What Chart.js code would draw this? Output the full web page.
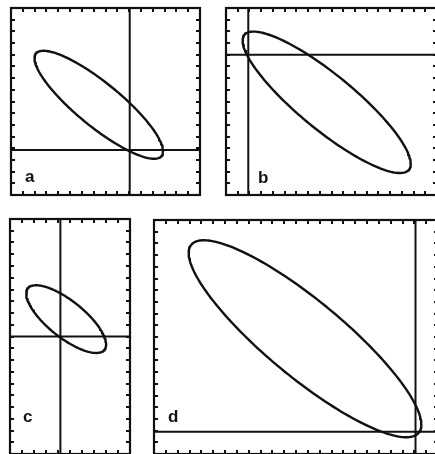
<!DOCTYPE html>
<html>
<head>
<meta charset="utf-8">
<script src="https://cdn.jsdelivr.net/npm/chart.js@4/dist/chart.umd.min.js"></script>
<style>
  html, body { margin: 0; padding: 0; background: #fff; overflow: hidden; }
  body { width: 435px; height: 454px; position: relative; }
  .panel { position: absolute; }
</style>
</head>
<body>
<script>
// panel letters
const panels = ["a", "b", "c", "d"];

// axis extent of each panel, in tick units
const xMax = [16, 18, 10, 24];
const yMax = [16, 16, 20, 20];

// position of the crossing lines
const lineX = [10.05, 1.9, 4.2, 22.1];
const lineY = [3.85, 12, 10, 1.9];

// ellipse: centre, half widths and correlation
const centreX = [7.43, 8.59, 4.68, 12.76];
const centreY = [7.72, 7.93, 11.48, 9.85];
const halfX = [5.44, 7.17, 3.33, 9.83];
const halfY = [4.62, 6.05, 2.88, 8.42];
const rho = [-0.86, -0.87, -0.75, -0.87];

// frame boxes on the page (left, top, right, bottom) and letter offsets
const boxes = [
    [11, 8, 200, 195],
    [226, 8, 437, 195],
    [10, 219, 130, 454],
    [154, 220, 438, 454]
];
const letterPos = [[14, 13], [32, 12], [13, 32], [14, 32]];

const PAD = 4;
const INK = "#111";

// Outline of an error ellipse from its centre, half widths and correlation
function ellipsePoints(i) {
    const pts = [];
    const k = Math.sqrt(1 - rho[i] * rho[i]);
    for (let s = 0; s <= 180; s++) {
        const t = s / 180 * Math.PI * 2;
        pts.push({
            x: centreX[i] + halfX[i] * Math.cos(t),
            y: centreY[i] + halfY[i] * (rho[i] * Math.cos(t) + k * Math.sin(t))
        });
    }
    return pts;
}

// Box, inward ticks and letter
const framePlugin = {
    id: "frame",
    afterDraw(chart) {
        const ctx = chart.ctx;
        const a = chart.chartArea;
        const xs = chart.scales.x, ys = chart.scales.y;
        const i = chart.options.plugins.frame.index;
        const tl = 4;

        ctx.save();
        ctx.strokeStyle = INK;
        ctx.lineWidth = 2;
        ctx.beginPath();
        for (let v = 1; v < xMax[i]; v++) {
            const px = Math.round(xs.getPixelForValue(v));
            ctx.moveTo(px, a.top); ctx.lineTo(px, a.top + tl);
            ctx.moveTo(px, a.bottom); ctx.lineTo(px, a.bottom - tl);
        }
        for (let v = 1; v < yMax[i]; v++) {
            const py = Math.round(ys.getPixelForValue(v));
            ctx.moveTo(a.left, py); ctx.lineTo(a.left + tl, py);
            ctx.moveTo(a.right, py); ctx.lineTo(a.right - tl, py);
        }
        ctx.stroke();

        ctx.lineWidth = 2.2;
        ctx.strokeRect(a.left, a.top, a.right - a.left, a.bottom - a.top);

        ctx.fillStyle = INK;
        ctx.font = "bold 17px 'Liberation Sans', Arial, sans-serif";
        ctx.textBaseline = "alphabetic";
        ctx.fillText(panels[i], a.left + letterPos[i][0], a.bottom - letterPos[i][1]);
        ctx.restore();
    }
};

function makePanel(i) {
    const b = boxes[i];
    const div = document.createElement("div");
    div.className = "panel";
    div.style.left = (b[0] - PAD) + "px";
    div.style.top = (b[1] - PAD) + "px";
    div.style.width = (b[2] - b[0] + 2 * PAD) + "px";
    div.style.height = (b[3] - b[1] + 2 * PAD) + "px";
    const canvas = document.createElement("canvas");
    div.appendChild(canvas);
    document.body.appendChild(div);

    return new Chart(canvas, {
        type: "scatter",
        data: {
            datasets: [
                {
                    data: [{ x: lineX[i], y: 0 }, { x: lineX[i], y: yMax[i] }],
                    showLine: true, borderColor: INK, borderWidth: 2, pointRadius: 0
                },
                {
                    data: [{ x: 0, y: lineY[i] }, { x: xMax[i], y: lineY[i] }],
                    showLine: true, borderColor: INK, borderWidth: 2, pointRadius: 0
                },
                {
                    data: ellipsePoints(i),
                    showLine: true, borderColor: INK, borderWidth: 2.4, pointRadius: 0,
                    borderCapStyle: "round", borderJoinStyle: "round"
                }
            ]
        },
        options: {
            responsive: true,
            maintainAspectRatio: false,
            animation: false,
            events: [],
            layout: { padding: PAD },
            scales: {
                x: { type: "linear", display: false, min: 0, max: xMax[i] },
                y: { type: "linear", display: false, min: 0, max: yMax[i] }
            },
            plugins: {
                legend: { display: false },
                tooltip: { enabled: false },
                frame: { index: i }
            }
        },
        plugins: [framePlugin]
    });
}

panels.forEach((p, i) => makePanel(i));
</script>
</body>
</html>
